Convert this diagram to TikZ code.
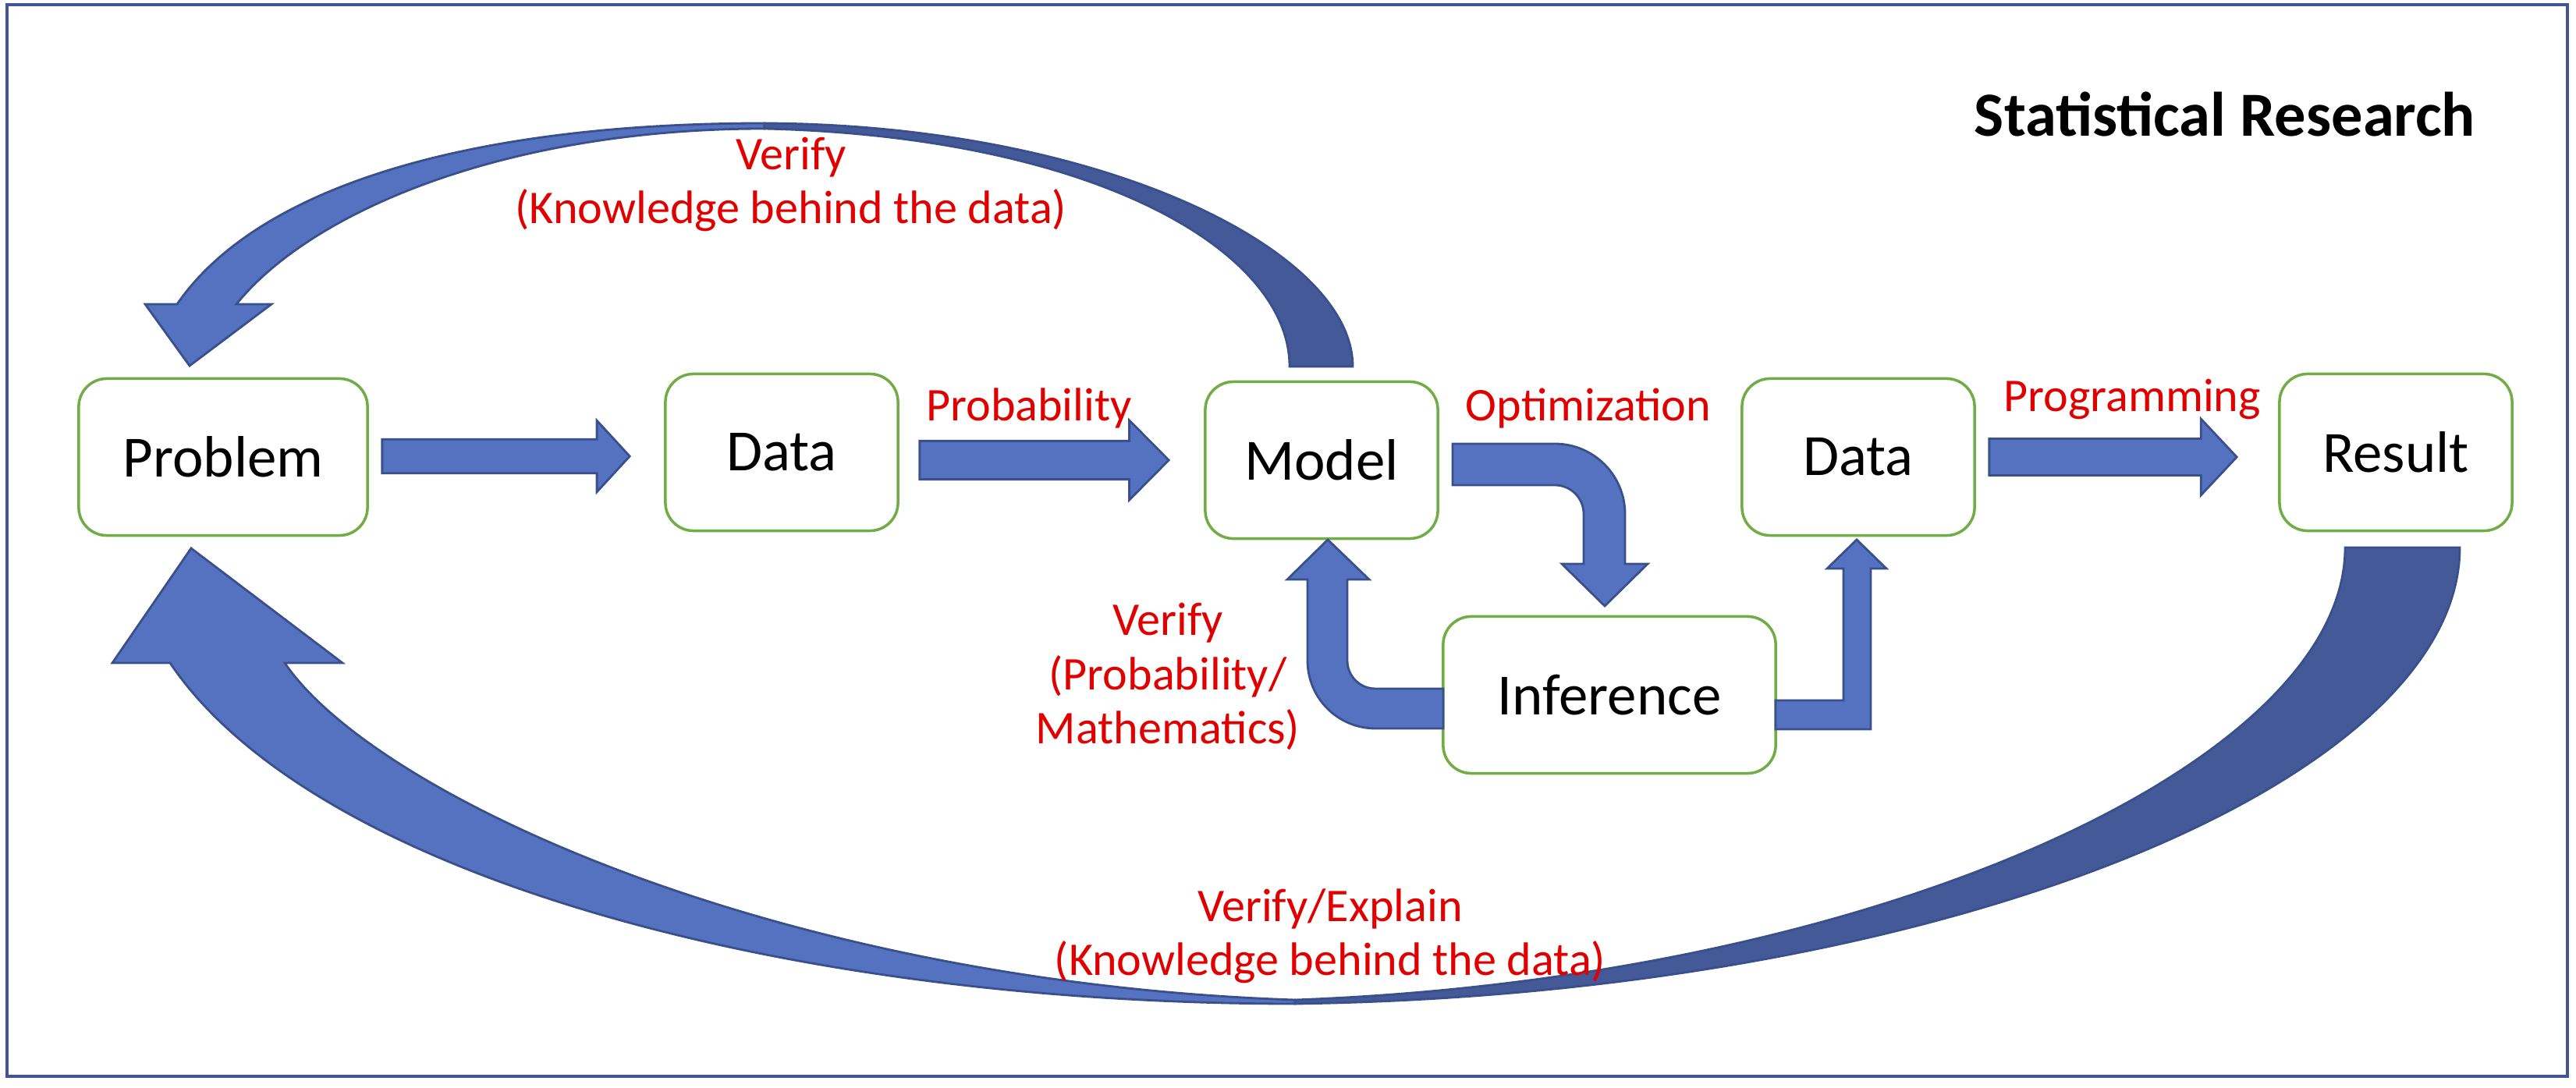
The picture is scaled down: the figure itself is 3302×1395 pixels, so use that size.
\documentclass[tikz,border=0pt]{standalone}
\usepackage{fontspec}
\setmainfont{Carlito}
\usetikzlibrary{calc}

\definecolor{boxgreen}{RGB}{112,173,71}
\definecolor{arrowfill}{RGB}{85,114,193}
\definecolor{arrowdark}{RGB}{68,90,152}
\definecolor{arrowline}{RGB}{58,80,140}
\definecolor{labelred}{RGB}{225,0,0}
\definecolor{frameblue}{RGB}{64,84,150}

\tikzset{
  stage/.style={draw=boxgreen, line width=1pt, rounded corners=0.36cm, fill=white,
    minimum width=2.98cm, minimum height=2.01cm, font=\fontsize{21.3}{25}\selectfont},
  tag/.style={text=labelred, font=\fontsize{17.1}{19.9}\selectfont, align=center,
    anchor=base, inner sep=0pt},
  blockarrow/.style={fill=arrowfill, draw=arrowline, line width=0.8pt},
  backarrow/.style={fill=arrowdark, draw=arrowline, line width=0.8pt}
}

% straight block arrow: tail, tip, shaft half width, head half width, head length
\newcommand{\rblock}[5]{%
  \draw[blockarrow] let \p1=#1, \p2=#2 in
    (\x1,\y1+#3) -- (\x2-#5,\y1+#3) -- (\x2-#5,\y1+#4) -- (\x2,\y1)
    -- (\x2-#5,\y1-#4) -- (\x2-#5,\y1-#3) -- (\x1,\y1-#3) -- cycle;}

\begin{document}
\begin{tikzpicture}[x=0.01cm,y=-0.01cm]
  \useasboundingbox (0,0) rectangle (3302,1395);
  \draw[frameblue,line width=1.2pt] (9,6) rectangle (3291,1380);

  % feedback from the model
  \draw[blockarrow] (227,390) .. controls (330,240) and (600,158) .. (980,158) -- (980,165)
    .. controls (650,165) and (400,270) .. (303,390) -- (348,390) -- (243,469) -- (186,390) -- cycle;
  \draw[backarrow] (980,158) .. controls (1410,160) and (1734,320) .. (1734,470) -- (1653,470)
    .. controls (1653,320) and (1400,175) .. (980,165) -- cycle;

  % feedback from the result
  \draw[blockarrow] (218,850) .. controls (400,1120) and (1000,1287) .. (1660,1287) -- (1660,1282)
    .. controls (1000,1260) and (480,1020) .. (365,850) -- (439,850) -- (245,703) -- (144,850) -- cycle;
  \draw[backarrow] (1660,1287) .. controls (2500,1275) and (3153,1000) .. (3153,702) -- (3006,702)
    .. controls (3006,980) and (2400,1255) .. (1660,1282) -- cycle;

  \node[stage, minimum width=3.70cm] (prob) at (286,586) {Problem};
  \node[stage] (dataA) at (1002,580) {Data};
  \node[stage] (model) at (1694,590) {Model};
  \node[stage] (dataB) at (2382,586) {Data};
  \node[stage] (result) at (3071,580) {Result};
  \node[stage, minimum width=4.26cm] (infer) at (2063,891) {Inference};

  \rblock{([shift={(17,-1)}]prob.east)}{([shift={(-44,0)}]dataA.west)}{0.218cm}{0.457cm}{0.42cm}
  \rblock{([shift={(26,10)}]dataA.east)}{([shift={(-45,0)}]model.west)}{0.246cm}{0.51cm}{0.505cm}
  \rblock{([shift={(17,0)}]dataB.east)}{([shift={(-53,0)}]result.west)}{0.235cm}{0.49cm}{0.46cm}

  % model -> inference
  \draw[blockarrow] (1862,569) -- (1993,569) arc[start angle=-90,end angle=0,radius=90]
    -- (2083,723) -- (2112,723) -- (2057,777) -- (2002,723) -- (2030,723) -- (2030,659)
    arc[start angle=0,end angle=-90,radius=37] -- (1862,622) -- cycle;
  % inference -> model
  \draw[blockarrow] (1850,883) -- (1763,883) arc[start angle=90,end angle=180,radius=36]
    -- (1727,743) -- (1755,743) -- (1702,692) -- (1650,743) -- (1676,743) -- (1676,847)
    arc[start angle=180,end angle=90,radius=87] -- (1850,934) -- cycle;
  % inference -> data
  \draw[blockarrow] (2276,898) -- (2363,898) -- (2363,729) -- (2342,729) -- (2380,692)
    -- (2418,729) -- (2398,729) -- (2398,935) -- (2276,935) -- cycle;

  % base of a tag = baseline of its last line
  \node[tag] (lblTop) at (1014,287) {Verify\\(Knowledge behind the data)};
  \node[tag] (lblProb) at (1319,540) {Probability};
  \node[tag] (lblOpt) at (2036,540) {Optimization};
  \node[tag] (lblProg) at (2733,528) {Programming};
  \node[tag] (lblMath) at (1497,954) {Verify\\(Probability/\\Mathematics)};
  \node[tag] (lblBottom) at (1705,1251) {Verify/Explain\\(Knowledge behind the data)};
  \node[font=\bfseries\fontsize{22.9}{27}\selectfont, anchor=base, inner sep=0pt] (title)
    at (2852,175) {Statistical Research};
\end{tikzpicture}
\end{document}
